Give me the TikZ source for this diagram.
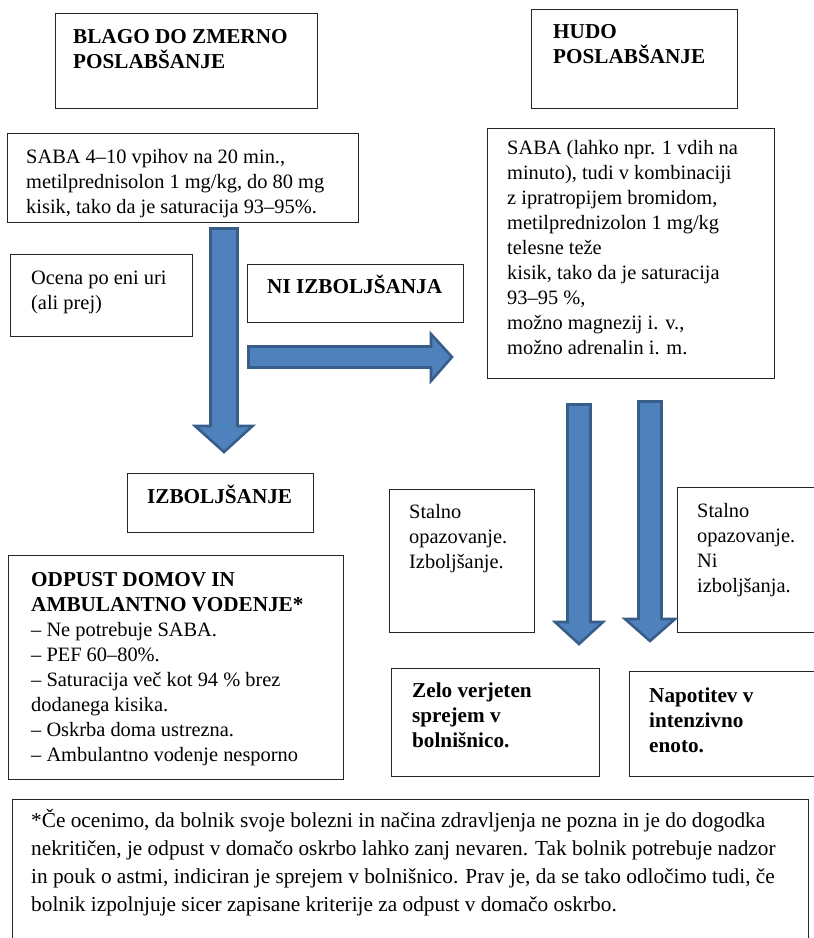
\documentclass[tikz,border=0pt]{standalone}
\usepackage{fontspec}
\setmainfont{Liberation Serif}
\definecolor{arrowfill}{HTML}{4F81BD}
\definecolor{arrowline}{HTML}{385D8A}
\newcommand{\regsize}{\fontsize{20.4}{25}\selectfont}
\newcommand{\boldsize}{\fontsize{21.2}{25}\selectfont\bfseries}
\tikzset{
  box/.style={draw=black!85, line width=1.1pt, fill=white, anchor=north west, inner sep=0pt},
  txt/.style={inner sep=0pt, anchor=base west, font=\regsize},
  btxt/.style={txt, font=\boldsize},
  blockarrow/.style={fill=arrowfill, draw=arrowline, line width=2.6pt, line join=miter},
}
\newcommand{\lines}[1]{\parbox[t]{420pt}{\raggedright #1}}
\begin{document}
\begin{tikzpicture}[x=1pt,y=-1pt]
\useasboundingbox (0,0) rectangle (814,938);
\clip (0,0) rectangle (814,938);

% boxes
\node[box, minimum width=262pt, minimum height=95pt] (blago) at (55,13) {};
\node[box, minimum width=206pt, minimum height=99pt] (hudo) at (531,9) {};
\node[box, minimum width=351pt, minimum height=89pt] (sabaL) at (7,133) {};
\node[box, minimum width=287pt, minimum height=250pt] (sabaR) at (487,128) {};
\node[box, minimum width=182pt, minimum height=82pt] (ocena) at (10,254) {};
\node[box, minimum width=216pt, minimum height=58pt] (ni) at (247,264) {};
\node[box, minimum width=186pt, minimum height=59pt] (izb) at (127,473) {};
\node[box, minimum width=335pt, minimum height=224pt] (odpust) at (8,555) {};
\node[box, minimum width=145pt, minimum height=143pt] (stalL) at (389,489) {};
\node[box, minimum width=150pt, minimum height=145pt] (stalR) at (677,487) {};
\node[box, minimum width=208pt, minimum height=108pt] (zelo) at (391,668) {};
\node[box, minimum width=200pt, minimum height=105pt] (napot) at (629,671) {};
\node[box, minimum width=796pt, minimum height=160pt] (foot) at (12,799) {};

% texts
\node[btxt] (tblago) at (73,43) {\lines{BLAGO DO ZMERNO\\POSLABŠANJE}};
\node[btxt] (thudo) at (553,38) {\lines{HUDO\\POSLABŠANJE}};
\node[txt] (tsabaL) at (26,163) {\lines{SABA 4–10 vpihov na 20 min.,\\metilprednisolon 1 mg/kg, do 80 mg\\kisik, tako da je saturacija 93–95\%.}};
\node[txt] (tsabaR) at (507,154) {\lines{SABA (lahko npr. 1 vdih na\\minuto), tudi v kombinaciji\\z ipratropijem bromidom,\\metilprednizolon 1 mg/kg\\telesne teže\\kisik, tako da je saturacija\\93–95 \%,\\možno magnezij i. v.,\\možno adrenalin i. m.}};
\node[txt] (tocena) at (31,284) {\lines{Ocena po eni uri\\(ali prej)}};
\node[btxt] (tni) at (267,293) {NI IZBOLJŠANJA};
\node[btxt] (tizb) at (147,503) {IZBOLJŠANJE};
\node[txt] (todpust) at (31,586) {\lines{{\boldsize ODPUST DOMOV IN}\\{\boldsize AMBULANTNO VODENJE*}\\– Ne potrebuje SABA.\\– PEF 60–80\%.\\– Saturacija več kot 94 \% brez\\dodanega kisika.\\– Oskrba doma ustrezna.\\– Ambulantno vodenje nesporno}};
\node[txt] (tstalL) at (409,518) {\lines{Stalno\\opazovanje.\\Izboljšanje.}};
\node[txt] (tstalR) at (697,517) {\lines{Stalno\\opazovanje.\\Ni\\izboljšanja.}};
\node[btxt] (tzelo) at (412,697) {\lines{Zelo verjeten\\sprejem v\\bolnišnico.}};
\node[btxt] (tnapot) at (649,702) {\lines{Napotitev v\\intenzivno\\enoto.}};
\node[txt, font=\fontsize{21.3}{28}\selectfont] (tfoot) at (31,827) {\parbox[t]{780pt}{\raggedright *Če ocenimo, da bolnik svoje bolezni in načina zdravljenja ne pozna in je do dogodka\\nekritičen, je odpust v domačo oskrbo lahko zanj nevaren. Tak bolnik potrebuje nadzor\\in pouk o astmi, indiciran je sprejem v bolnišnico. Prav je, da se tako odločimo tudi, če\\bolnik izpolnjuje sicer zapisane kriterije za odpust v domačo oskrbo.}};

% block arrows
\draw[blockarrow] (210.5,228.5) -- (237.5,228.5) -- (237.5,426) -- (252.5,426) -- (224,452) -- (195,426) -- (210.5,426) -- cycle;
\draw[blockarrow] (248.5,346.5) -- (431,346.5) -- (431,334) -- (452,357) -- (431,381) -- (431,367.5) -- (248.5,367.5) -- cycle;
\draw[blockarrow] (567.5,404.5) -- (590.5,404.5) -- (590.5,622) -- (603,622) -- (579,644) -- (555,622) -- (567.5,622) -- cycle;
\draw[blockarrow] (638.5,401.5) -- (661.5,401.5) -- (661.5,619) -- (675,619) -- (650,641) -- (625,619) -- (638.5,619) -- cycle;
\end{tikzpicture}
\end{document}
